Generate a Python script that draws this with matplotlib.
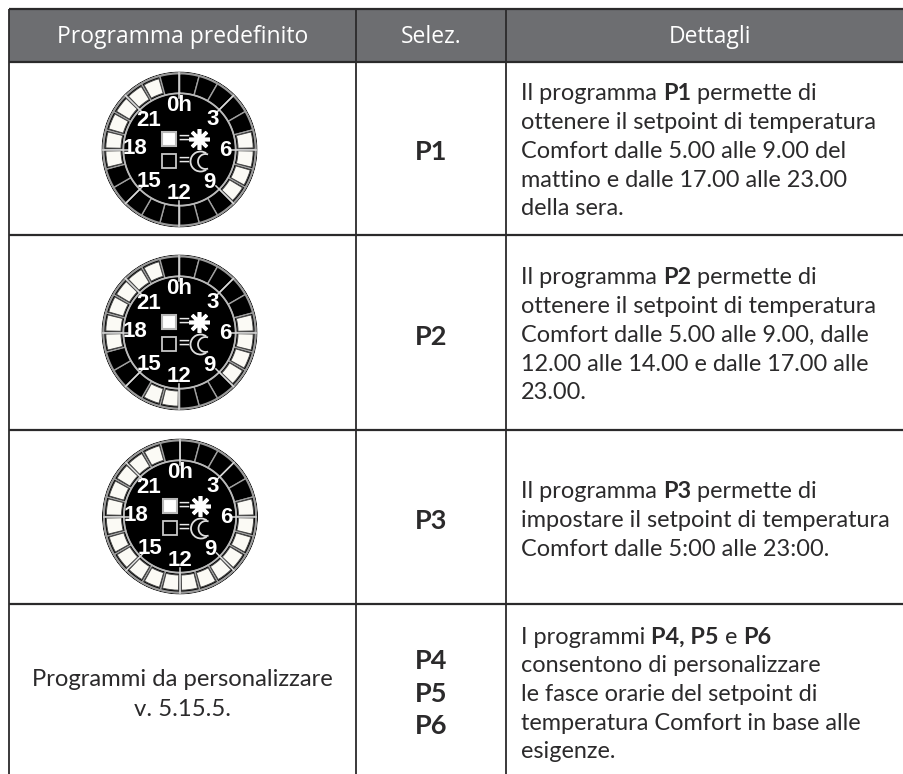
import numpy as np
from matplotlib import pyplot as plt
from matplotlib.patches import Arc

W, H = 904, 774

headers = ["Programma predefinito", "Selez.", "Dettagli"]
col_edges = [9, 356, 506, 904]
row_edges = [9, 62, 235, 430, 604, 774]
header_x = [183, 431, 710]

comfort_hours = [
    [5, 6, 7, 8, 17, 18, 19, 20, 21, 22],
    [5, 6, 7, 8, 12, 13, 17, 18, 19, 20, 21, 22],
    [5, 6, 7, 8, 9, 10, 11, 12, 13, 14, 15, 16, 17, 18, 19, 20, 21, 22],
]
dial_hours = ["0h", "3", "6", "9", "12", "15", "18", "21"]
dial_dx = [0, 33, 46, 30, 0, -30, -44, -31]
dial_dy = [-44, -30, 1, 33, 44, 32, -1, -29]
dial_centers = [(179.5, 149.5), (179.5, 332.5), (180, 516.5)]

selez = ["P1", "P2", "P3"]
selez_y = [152, 337, 521]
custom_sel = ["P4", "P5", "P6"]
custom_sel_y = [661, 694, 726]
custom_label = ["Programmi da personalizzare", "v. 5.15.5."]
custom_label_y = [679, 709]
details = [
    [("Il programma ", "P1", " permette di"),
     "ottenere il setpoint di temperatura",
     "Comfort dalle 5.00 alle 9.00 del",
     "mattino e dalle 17.00 alle 23.00",
     "della sera."],
    [("Il programma ", "P2", " permette di"),
     "ottenere il setpoint di temperatura",
     "Comfort dalle 5.00 alle 9.00, dalle",
     "12.00 alle 14.00 e dalle 17.00 alle",
     "23.00."],
    [("Il programma ", "P3", " permette di"),
     "impostare il setpoint di temperatura",
     "Comfort dalle 5:00 alle 23:00."],
    [("I programmi ", "P4, P5", " e ", "P6"),
     "consentono di personalizzare",
     "le fasce orarie del setpoint di",
     "temperatura Comfort in base alle",
     "esigenze."],
]
details_y = [94, 278, 492, 637]

plt.rcParams['font.family'] = ['Lato', 'DejaVu Sans']
DARK = "#2b2a2b"
HEAD = "#6d6e71"

fig = plt.figure(figsize=(W / 100, H / 100), dpi=100)
ax = fig.add_axes([0, 0, 1, 1], zorder=5)
ax.set_xlim(0, W)
ax.set_ylim(H, 0)
ax.axis("off")

# header band
ax.fill_between([col_edges[0], col_edges[-1]], row_edges[0], row_edges[1], color=HEAD, lw=0)
for x, h in zip(header_x, headers):
    ax.text(x, 37, h, color="white", fontsize=16.5, ha="center", va="center",
            family=["Open Sans", "DejaVu Sans"])

# grid
for y in row_edges[:-1]:
    ax.plot([col_edges[0], col_edges[-1]], [y, y], color=DARK, lw=1.6, solid_capstyle="butt")
for x in col_edges[:-1]:
    ax.plot([x, x], [row_edges[0], row_edges[-1]], color=DARK, lw=1.3, solid_capstyle="butt")

# select column
sel_x = (col_edges[1] + col_edges[2]) / 2
for s, y in zip(selez + custom_sel, selez_y + custom_sel_y):
    ax.text(sel_x + 0.5, y, s, fontsize=19.5, weight="bold", color=DARK, ha="center", va="center")

for s, y in zip(custom_label, custom_label_y):
    ax.text(182.5, y, s, fontsize=17.2, color=DARK, ha="center", va="center")

# details column
fig.canvas.draw()
renderer = fig.canvas.get_renderer()
line_h = 28.7
for lines, y0 in zip(details, details_y):
    for n, line in enumerate(lines):
        parts = (line,) if isinstance(line, str) else line
        x = 521
        for k, part in enumerate(parts):
            bold = len(parts) > 1 and k % 2 == 1
            t = ax.text(x, y0 + n * line_h, part.replace(" ", "\u00a0"), fontsize=16.9, color=DARK,
                        weight="bold" if bold else "normal", ha="left", va="center")
            x += t.get_window_extent(renderer).width


def draw_dial(center, lit):
    size = 156
    cx, cy = center
    dial = fig.add_axes([(cx - size / 2) / W, 1 - (cy + size / 2) / H, size / W, size / H],
                        projection="polar")
    dial.set_theta_zero_location("N")
    dial.set_theta_direction(-1)
    dial.set_ylim(0, 1)
    dial.axis("off")
    step = 2 * np.pi / 24
    hours = np.arange(24)
    theta = (hours + 0.5) * step
    dial.bar(0, 1, width=2 * np.pi, color="black", lw=0)
    dial.bar(theta, 0.26, width=step, bottom=0.72, color="black", edgecolor="#a0a0a0", lw=1.0)
    lit_theta = [(h + 0.5) * step for h in lit]
    dial.bar(lit_theta, 0.195, width=step * 0.84, bottom=0.75, color="#fbfaf5", edgecolor="#4a4a4a", lw=0.7)
    th = np.linspace(0, 2 * np.pi, 200)
    dial.plot(th, np.full(200, 0.72), color="#b9b9b9", lw=1.3)
    dial.plot(th, np.full(200, 0.975), color="#9a9a9a", lw=1.4)
    for h in range(0, 24, 3):
        t = h * step
        dial.plot([t, t], [0.66, 0.98], color="#d8d8d8", lw=1.1)
    for label, dx, dy in zip(dial_hours, dial_dx, dial_dy):
        ax.text(cx + dx, cy + dy, label, color="white", fontsize=16, weight="bold", ha="center",
                va="center", family=["Liberation Sans", "DejaVu Sans"])
    # squares, equals signs, sun and moon
    ax.plot(cx - 10, cy - 11, marker="s", ms=9.5, mfc="white", mec="#b8b8b8", mew=1.5)
    ax.plot(cx - 10, cy + 11, marker="s", ms=9.5, mfc="black", mec="#c8c8c8", mew=1.3)
    ax.text(cx + 4, cy - 11, "=", color="#e8e8e8", fontsize=16, ha="center", va="center")
    ax.text(cx + 4, cy + 11, "=", color="#e8e8e8", fontsize=16, ha="center", va="center")
    ax.plot(cx + 20, cy - 11, marker=(8, 2, 0), ms=15, color="white", mew=2.6)
    ax.plot(cx + 20, cy - 11, marker="o", ms=6, color="white", mew=0)
    ax.add_patch(Arc((cx + 21, cy + 12), 20, 20, theta1=55, theta2=305, color="#dddddd", lw=1.3))
    ax.add_patch(Arc((cx + 26, cy + 12), 15, 15, theta1=70, theta2=290, color="#dddddd", lw=1.3))


for center, lit in zip(dial_centers, comfort_hours):
    draw_dial(center, lit)

plt.savefig("out.png", dpi=100)
